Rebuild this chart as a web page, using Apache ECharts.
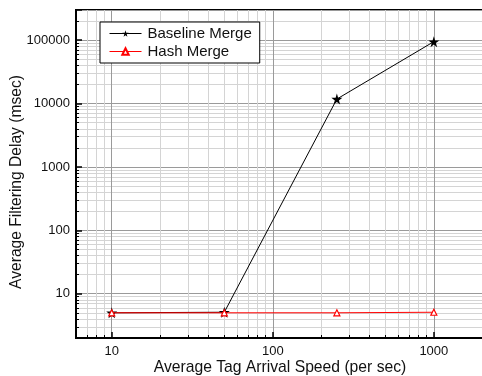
<!DOCTYPE html>
<html>
<head>
<meta charset="utf-8">
<script src="https://cdn.jsdelivr.net/npm/echarts@6/dist/echarts.min.js"></script>
<style>
  html, body { margin: 0; padding: 0; background: #fff; }
  #chart { width: 482px; height: 376px; }
</style>
</head>
<body>
<div id="chart"></div>
<script>
// tag arrival speed (per sec)
var speeds = [10, 50, 250, 1000];
// average filtering delay (msec)
var baselineMerge = [5, 5.1, 11800, 95000];
var hashMerge = [5, 5, 5, 5.1];
var seriesNames = ['Baseline Merge', 'Hash Merge'];

var starPath = 'path://M50,0 L61,35 L98,35 L68,57 L79,91 L50,70 L21,91 L32,57 L2,35 L39,35 Z';

function pairs(xs, ys) {
    return xs.map(function (x, i) { return [x, ys[i]]; });
}

function decadeLabel(v) {
    var l = Math.log10(v);
    return Math.abs(l - Math.round(l)) < 1e-6 ? String(Math.round(v)) : '';
}

var chart = echarts.init(document.getElementById('chart'));
var font = 'Liberation Sans, Arial, sans-serif';

var option = {
    animation: false,
    textStyle: { fontFamily: font },
    grid: {
        left: 76, top: 10, right: -20, bottom: 38,
        outerBoundsMode: 'none',
        containLabel: false,
        show: true, borderColor: '#000', borderWidth: 2, backgroundColor: 'transparent'
    },
    legend: {
        left: 100, top: 22,
        orient: 'vertical',
        backgroundColor: '#fff',
        borderColor: '#000', borderWidth: 1,
        padding: [4, 8, 4, 9],
        itemGap: 3,
        itemWidth: 32, itemHeight: 8,
        lineStyle: { width: 1 },
        textStyle: { fontSize: 15, color: '#111', fontFamily: font, padding: [0, 0, 0, 1] },
        data: seriesNames
    },
    xAxis: {
        type: 'log', logBase: 10,
        min: 6, max: 2650,
        name: 'Average Tag Arrival Speed (per sec)',
        nameLocation: 'middle', nameGap: 22,
        nameMoveOverlap: false,
        nameTextStyle: { fontSize: 15.7, color: '#111', padding: [0, 18, 0, 0] },
        axisLine: { lineStyle: { color: '#000', width: 2 } },
        axisTick: { inside: true, length: 6, lineStyle: { color: '#000', width: 1.5 } },
        minorTick: { show: true, splitNumber: 9, length: 3, lineStyle: { color: '#000' } },
        axisLabel: { fontSize: 13, color: '#111', margin: 7, formatter: decadeLabel },
        splitLine: { show: true, lineStyle: { color: '#9a9a9a', width: 1 } },
        minorSplitLine: { show: true, lineStyle: { color: '#d4d4d4', width: 1 } }
    },
    yAxis: {
        type: 'log', logBase: 10,
        min: 2, max: 300000,
        name: 'Average Filtering Delay (msec)',
        nameLocation: 'middle', nameGap: 51,
        nameMoveOverlap: false,
        nameTextStyle: { fontSize: 15.6, color: '#111', padding: [0, 16, 0, 0] },
        axisLine: { show: true, lineStyle: { color: '#000', width: 2 } },
        axisTick: { show: true, inside: true, length: 6, lineStyle: { color: '#000', width: 1.5 } },
        minorTick: { show: true, splitNumber: 9, length: 3, lineStyle: { color: '#000' } },
        axisLabel: { fontSize: 13, color: '#111', margin: 6, formatter: decadeLabel },
        splitLine: { show: true, lineStyle: { color: '#9a9a9a', width: 1 } },
        minorSplitLine: { show: true, lineStyle: { color: '#d4d4d4', width: 1 } }
    },
    series: [
        {
            name: seriesNames[0],
            type: 'line',
            data: pairs(speeds, baselineMerge),
            symbol: starPath,
            symbolSize: 11,
            showAllSymbol: true,
            lineStyle: { color: '#000', width: 1 },
            itemStyle: { color: '#000' },
            z: 3
        },
        {
            name: seriesNames[1],
            type: 'line',
            data: pairs(speeds, hashMerge),
            symbol: 'triangle',
            symbolSize: 6,
            showAllSymbol: true,
            lineStyle: { color: '#ff0000', width: 1 },
            itemStyle: { color: '#fff', borderColor: '#ff0000', borderWidth: 1.2 },
            z: 4
        }
    ]
};

chart.setOption(option);
</script>
</body>
</html>
